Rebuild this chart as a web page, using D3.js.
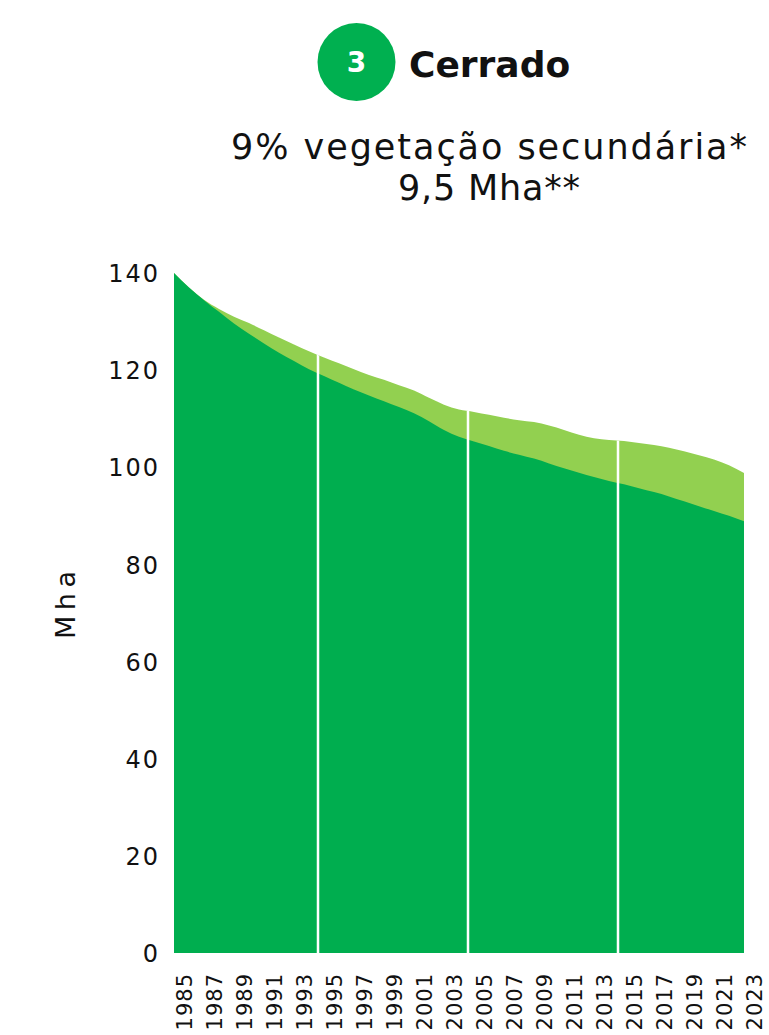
<!DOCTYPE html>
<html>
<head>
<meta charset="utf-8">
<script src="https://cdn.jsdelivr.net/npm/d3@7"></script>
<style>
  html, body { margin: 0; padding: 0; background: #fff; }
  svg { display: block; }
  text { font-family: "DejaVu Sans", sans-serif; fill: #111; }
</style>
</head>
<body>
<svg id="chart" width="769" height="1035"></svg>
<script>
const years = d3.range(1985, 2024);
const totalVeg = [140.0, 137.0, 134.5, 132.6, 131.0, 129.7, 128.2, 126.7, 125.3, 123.9,
  122.6, 121.4, 120.2, 119.0, 118.0, 116.9, 115.8, 114.3, 112.9, 111.9,
  111.4, 110.8, 110.2, 109.7, 109.3, 108.6, 107.7, 106.7, 106.0, 105.6,
  105.4, 105.0, 104.6, 104.0, 103.3, 102.5, 101.6, 100.4, 98.8];
const primaryVeg = [140.0, 137.0, 134.4, 132.0, 129.6, 127.5, 125.5, 123.6, 121.9, 120.2,
  118.8, 117.4, 116.0, 114.8, 113.6, 112.4, 111.1, 109.5, 107.7, 106.3,
  105.3, 104.4, 103.4, 102.6, 101.8, 100.8, 99.8, 98.9, 98.0, 97.2,
  96.5, 95.7, 94.9, 94.0, 93.0, 92.0, 91.0, 90.0, 88.9];
const yTicks = [0, 20, 40, 60, 80, 100, 120, 140];
const xTickYears = years.filter(y => (y - 1985) % 2 === 0);
const separators = [1994.6, 2004.6, 2014.6];

const colorPrimary = "#00ae4f";
const colorSecondary = "#92d050";

const svg = d3.select("#chart");
const x = d3.scaleLinear().domain([1985, 2023]).range([174, 744]);
const y = d3.scaleLinear().domain([0, 140]).range([953, 273]);

const data = years.map((yr, i) => ({ yr, total: totalVeg[i], prim: primaryVeg[i] }));

const areaTotal = d3.area().x(d => x(d.yr)).y0(y(0)).y1(d => y(d.total)).curve(d3.curveMonotoneX);
const areaPrim = d3.area().x(d => x(d.yr)).y0(y(0)).y1(d => y(d.prim)).curve(d3.curveMonotoneX);

svg.append("defs").append("clipPath").attr("id", "clipTotal")
  .append("path").attr("d", areaTotal(data));

svg.append("path").attr("d", areaTotal(data)).attr("fill", colorSecondary);
svg.append("path").attr("d", areaPrim(data)).attr("fill", colorPrimary);

svg.append("g").attr("clip-path", "url(#clipTotal)")
  .selectAll("line").data(separators).join("line")
  .attr("x1", d => x(d)).attr("x2", d => x(d))
  .attr("y1", y(145)).attr("y2", y(0))
  .attr("stroke", "#fff").attr("stroke-width", 2.5);

// Y axis (labels only)
const yAxis = d3.axisLeft(y).tickValues(yTicks).tickSize(0).tickPadding(0);
const gy = svg.append("g").attr("transform", "translate(160,0)").call(yAxis);
gy.select(".domain").remove();
gy.selectAll("text").style("font-family", "'DejaVu Sans', sans-serif")
  .style("font-size", "24px").style("letter-spacing", "2px").attr("fill", "#111").attr("dy", "0.36em");

// X axis (rotated labels only)
const xAxis = d3.axisBottom(x).tickValues(xTickYears).tickFormat(d3.format("d")).tickSize(0);
const gx = svg.append("g").attr("transform", "translate(0,953)").call(xAxis);
gx.select(".domain").remove();
gx.selectAll("text")
  .style("font-family", "'DejaVu Sans', sans-serif").style("font-size", "21px")
  .style("letter-spacing", "1px").attr("fill", "#111")
  .attr("text-anchor", "end")
  .attr("transform", "translate(10,20) rotate(-90)")
  .attr("x", 0).attr("y", 0).attr("dy", "0.36em");

// Y label
svg.append("text").attr("transform", "translate(65,605) rotate(-90)")
  .attr("text-anchor", "middle").attr("dy", "0.36em")
  .attr("textLength", 68)
  .style("font-size", "27px").text("Mha");

// Title
svg.append("circle").attr("cx", 356.5).attr("cy", 62).attr("r", 39).attr("fill", "#00b050");
svg.append("text").attr("x", 356.5).attr("y", 62).attr("dy", "0.36em").attr("text-anchor", "middle")
  .style("font-size", "28px").style("font-weight", "bold").style("fill", "#fff").text("3");
svg.append("text").attr("x", 409).attr("y", 77)
  .style("font-size", "36px").style("font-weight", "bold").text("Cerrado");

svg.append("text").attr("x", 489).attr("y", 159).attr("text-anchor", "middle")
  .attr("textLength", 516)
  .style("font-size", "35px").text("9% vegetação secundária*");
svg.append("text").attr("x", 489).attr("y", 200).attr("text-anchor", "middle")
  .attr("textLength", 182)
  .style("font-size", "35px").text("9,5 Mha**");
</script>
</body>
</html>
